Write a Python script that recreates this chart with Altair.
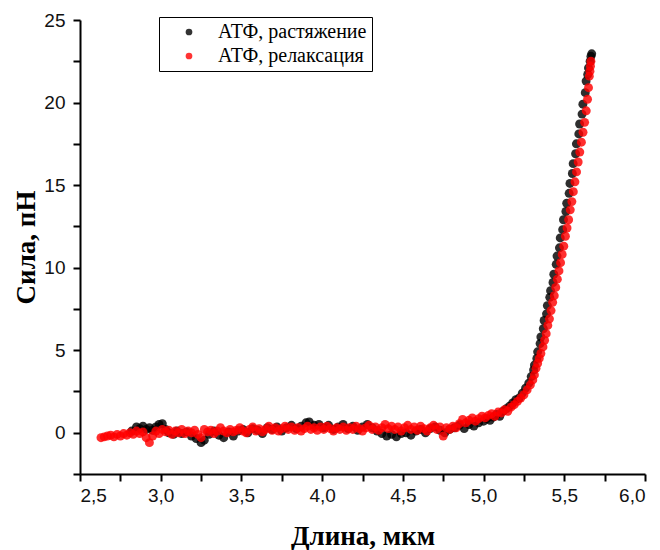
import altair as alt
import pandas as pd

series_names = ["АТФ, растяжение", "АТФ, релаксация"]
series_colors = ["#000000", "#ff0000"]

black_x = [2.82, 2.85, 2.87, 2.89, 2.91, 2.93, 2.95, 2.97, 2.99, 3.01, 3.03, 3.05, 3.08, 3.10,
           3.13, 3.16, 3.19, 3.22, 3.25, 3.27, 3.30, 3.33, 3.36, 3.39, 3.42, 3.45, 3.48, 3.51,
           3.54, 3.57, 3.60, 3.63, 3.66, 3.69, 3.72, 3.75, 3.78, 3.81, 3.84, 3.87, 3.90, 3.92,
           3.95, 3.98, 4.01, 4.04, 4.07, 4.10, 4.13, 4.16, 4.19, 4.22, 4.25, 4.28, 4.31, 4.34,
           4.37, 4.40, 4.43, 4.46, 4.49, 4.52, 4.55, 4.58, 4.61, 4.64, 4.67, 4.70, 4.73, 4.76,
           4.79, 4.82, 4.85, 4.88, 4.91, 4.94, 4.97, 5.00, 5.02, 5.04, 5.06, 5.08, 5.10, 5.12,
           5.14, 5.16, 5.18, 5.20, 5.22, 5.24, 5.26, 5.28, 5.295, 5.31, 5.315, 5.33, 5.335, 5.35,
           5.355, 5.37, 5.375, 5.39, 5.395, 5.41, 5.415, 5.43, 5.435, 5.45, 5.455, 5.47, 5.475,
           5.49, 5.495, 5.51, 5.515, 5.53, 5.535, 5.55, 5.555, 5.57, 5.575, 5.59, 5.595, 5.61,
           5.615, 5.63, 5.635, 5.645, 5.65, 5.66, 5.665, 5.67]
black_y = [0.1, 0.35, 0.25, 0.4, 0.2, 0.3, 0.15, 0.35, 0.5, 0.55, 0.2, 0.0, -0.1, 0.1,
           -0.05, 0.05, -0.2, -0.35, -0.6, -0.45, -0.1, 0.1, -0.15, -0.3, 0.05, -0.2, 0.1, 0.2,
           0.0, 0.25, 0.15, -0.05, 0.3, 0.2, 0.35, 0.1, 0.3, 0.45, 0.25, 0.4, 0.6, 0.65,
           0.45, 0.5, 0.3, 0.45, 0.2, 0.35, 0.5, 0.25, 0.4, 0.15, 0.35, 0.5, 0.3, 0.1,
           -0.05, -0.2, -0.1, -0.25, -0.05, 0.0, -0.15, 0.1, 0.2, 0.0, 0.25, 0.35, 0.15, 0.0,
           0.2, 0.3, 0.45, 0.25, 0.5, 0.4, 0.6, 0.7, 0.85, 0.75, 0.95, 1.1, 1.0, 1.3,
           1.45, 1.6, 1.8, 2.0, 2.1, 2.4, 2.7, 3.0, 3.4, 3.8, 4.1, 4.5, 4.9, 5.4,
           5.8, 6.3, 6.8, 7.2, 7.7, 8.2, 8.6, 9.1, 9.6, 10.2, 10.7, 11.2, 11.8,
           12.3, 12.9, 13.4, 13.9, 14.5, 15.1, 15.7, 16.3, 16.9, 17.5, 18.1, 18.7, 19.3,
           19.9, 20.6, 21.3, 21.7, 22.1, 22.5, 22.8, 22.95]

red_x = [2.63, 2.65, 2.67, 2.69, 2.71, 2.73, 2.75, 2.77, 2.79, 2.81, 2.83, 2.85, 2.87, 2.89,
         2.91, 2.93, 2.95, 2.97, 2.99, 3.01, 3.03, 3.05, 3.07, 3.09, 3.11, 3.13, 3.15, 3.17,
         3.19, 3.21, 3.23, 3.25, 3.27, 3.29, 3.31, 3.33, 3.35, 3.37, 3.39, 3.41, 3.43, 3.45,
         3.47, 3.49, 3.51, 3.53, 3.55, 3.57, 3.59, 3.61, 3.63, 3.65, 3.67, 3.69, 3.71, 3.73,
         3.75, 3.77, 3.79, 3.81, 3.83, 3.85, 3.87, 3.89, 3.91, 3.93, 3.95, 3.97, 3.99, 4.01,
         4.03, 4.05, 4.07, 4.09, 4.11, 4.13, 4.15, 4.17, 4.19, 4.21, 4.23, 4.25, 4.27, 4.29,
         4.31, 4.33, 4.35, 4.37, 4.39, 4.41, 4.43, 4.45, 4.47, 4.49, 4.51, 4.53, 4.55, 4.57,
         4.59, 4.61, 4.63, 4.65, 4.67, 4.69, 4.71, 4.73, 4.75, 4.77, 4.79, 4.81, 4.83, 4.85,
         4.87, 4.89, 4.91, 4.93, 4.95, 4.97, 4.99, 5.01, 5.03, 5.05, 5.07, 5.09, 5.11, 5.13,
         5.15, 5.17, 5.19, 5.21, 5.23, 5.25, 5.27, 5.29, 5.305, 5.315, 5.325, 5.335, 5.345, 5.355,
         5.368, 5.378, 5.388, 5.398, 5.408, 5.418, 5.428, 5.438, 5.447, 5.457, 5.467, 5.477,
         5.487, 5.497, 5.507, 5.517, 5.527, 5.537, 5.547, 5.556, 5.566, 5.576, 5.586, 5.596,
         5.606, 5.616, 5.626, 5.636, 5.644, 5.650, 5.655, 5.659, 5.662, 5.665]
red_y = [-0.3, -0.25, -0.2, -0.15, -0.25, -0.1, -0.2, -0.05, -0.15, 0.0, -0.1, 0.1, -0.05, 0.05,
         -0.3, -0.6, -0.2, 0.1, -0.05, 0.2, 0.05, 0.15, -0.1, 0.1, 0.0, 0.2, -0.05, 0.1,
         0.0, 0.15, -0.1, -0.3, 0.2, 0.05, 0.15, -0.05, 0.1, 0.3, 0.1, 0.0, 0.2, 0.05,
         0.15, 0.3, 0.1, 0.0, 0.2, 0.35, 0.1, 0.25, 0.05, 0.2, 0.4, 0.15, 0.3, 0.1,
         0.25, 0.4, 0.2, 0.35, 0.15, 0.3, 0.1, 0.25, 0.4, 0.2, 0.3, 0.15, 0.35, 0.2,
         0.4, 0.25, 0.1, 0.3, 0.2, 0.35, 0.15, 0.3, 0.2, 0.4, 0.25, 0.1, 0.3, 0.45,
         0.2, 0.35, 0.15, 0.3, 0.5, 0.25, 0.4, 0.2, 0.35, 0.1, 0.3, 0.45, 0.2, 0.35,
         0.15, 0.4, 0.25, 0.1, 0.3, 0.45, 0.2, 0.35, -0.2, 0.3, 0.2, 0.4, 0.3, 0.55,
         0.8, 0.6, 0.75, 0.9, 0.7, 0.85, 1.0, 0.9, 1.05, 1.15, 1.0, 1.25, 1.2, 1.4,
         1.3, 1.55, 1.7, 1.9, 2.1, 2.3, 2.6, 2.9, 3.2, 3.5, 3.9, 4.2, 4.5, 4.8,
         5.2, 5.6, 6.0, 6.5, 6.9, 7.4, 7.9, 8.3, 8.8, 9.3, 9.8, 10.3,
         10.8, 11.3, 11.9, 12.4, 12.9, 13.5, 14.0, 14.6, 15.2, 15.8, 16.4, 17.0,
         17.6, 18.2, 18.8, 19.5, 20.2, 20.9, 21.6, 21.9, 22.2, 22.5]

x_tick_values = [2.5, 2.75, 3.0, 3.25, 3.5, 3.75, 4.0, 4.25, 4.5, 4.75, 5.0, 5.25, 5.5, 5.75, 6.0]
y_tick_values = [-2.5, 0, 2.5, 5, 7.5, 10, 12.5, 15, 17.5, 20, 22.5, 25]

df = pd.concat([
    pd.DataFrame({"x": black_x, "y": black_y, "series": series_names[0], "order": 0}),
    pd.DataFrame({"x": red_x, "y": red_y, "series": series_names[1], "order": 1}),
], ignore_index=True)

x_major = "abs(datum.value*2 - round(datum.value*2)) < 0.01"
y_major = "abs(datum.value/5 - round(datum.value/5)) < 0.01"

common = dict(grid=False, ticks=True, tickColor="#000000", tickWidth=2, tickSize=7,
              domainColor="#000000", domainWidth=2,
              labelFont="Liberation Sans", labelFontSize=19, labelColor="#111111",
              titleFont="Liberation Serif", titleFontSize=27, titleFontWeight="bold",
              titleColor="#000000")

chart = alt.Chart(df).mark_circle(size=80, opacity=0.82).encode(
    x=alt.X("x:Q", scale=alt.Scale(domain=[2.5, 6.0], nice=False, zero=False),
            axis=alt.Axis(title="Длина, мкм", values=x_tick_values, orient="bottom",
                          labelExpr=f"{x_major} ? replace(format(datum.value, '.1f'), '.', ',') : ''",
                          labelPadding=5, titlePadding=18, **common)),
    y=alt.Y("y:Q", scale=alt.Scale(domain=[-2.5, 25], nice=False, zero=False),
            axis=alt.Axis(title="Сила, пН", values=y_tick_values, orient="left",
                          labelExpr=f"{y_major} ? format(datum.value, 'd') : ''",
                          labelPadding=8, titlePadding=3, **common)),
    color=alt.Color("series:N",
                    scale=alt.Scale(domain=series_names, range=series_colors),
                    legend=alt.Legend(title=None, orient="none", legendX=79, legendY=-3,
                                      strokeColor="#000000", padding=5, symbolType="circle",
                                      symbolSize=45, symbolOffset=15, labelOffset=19,
                                      rowPadding=4, labelFont="Liberation Serif",
                                      labelFontSize=20, labelColor="#000000",
                                      symbolOpacity=0.8, symbolStrokeWidth=0)),
    order=alt.Order("order:Q"),
).properties(
    width=565, height=454,
    autosize=alt.AutoSizeParams(type="none"),
    padding={"left": 80, "top": 20, "right": 15, "bottom": 76},
).configure_view(
    stroke=None
)

chart.save("out.html", embed_options={"renderer": "svg", "actions": False})
